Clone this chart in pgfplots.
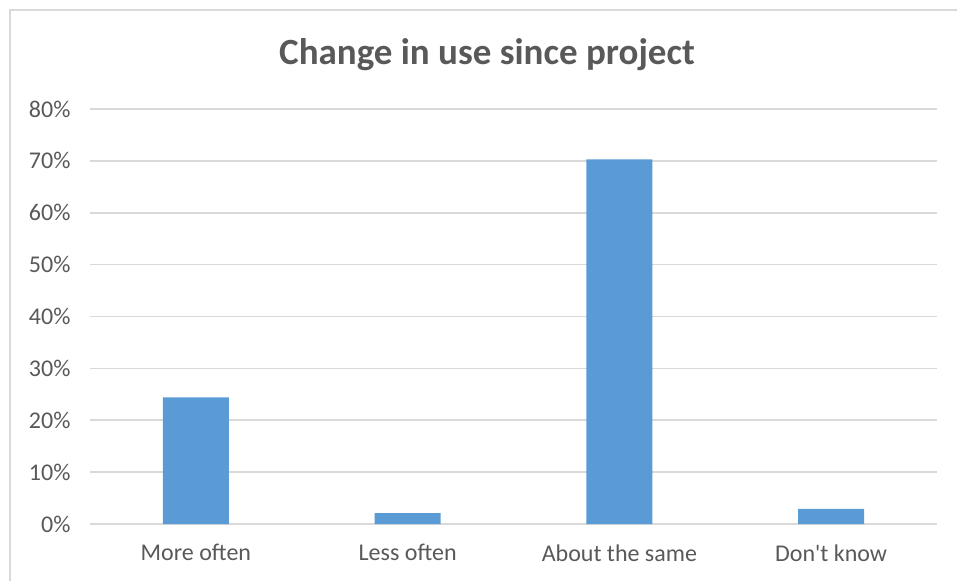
\documentclass[border=0pt]{standalone}
\usepackage{pgfplots}
\pgfplotsset{compat=1.18}
\usepackage{fontspec}
\setmainfont{Carlito}[Ligatures=TeXOff]
\definecolor{barblue}{HTML}{5B9BD5}
\definecolor{gridgray}{HTML}{D9D9D9}
\definecolor{txtgray}{HTML}{595959}
\begin{document}
\begin{tikzpicture}[x=1pt,y=1pt]
\begin{axis}[
  at={(90pt,57pt)}, anchor=south west,
  scale only axis, width=847pt, height=415pt,
  xmin=-0.5, xmax=3.5, ymin=0, ymax=80,
  axis line style={draw=none},
  major tick length=0pt,
  xtick=data,
  xticklabels={More often,Less often,About the same,Don't know},
  ytick={0,10,...,80},
  yticklabel={\pgfmathprintnumber{\tick}\%},
  /pgf/number format/assume math mode=true,
  ymajorgrids, grid style={gridgray, line width=1.6pt},
  tick label style={font=\fontsize{24}{28}\selectfont, text=txtgray},
  xticklabel style={yshift=-17pt},
  yticklabel style={xshift=-16pt},
  enlargelimits=false,
  clip=false,
]
\addplot[ybar, bar width=66pt, fill=barblue, draw=none] coordinates {
 (0,24.4) (1,2.1) (2,70.3) (3,2.9)};
\end{axis}
\node[font=\fontsize{37}{42}\selectfont\bfseries, text=txtgray] at (487pt,526pt) {Change in use since project};
\draw[gridgray, line width=1.2pt] (10pt,0pt) -- (10pt,571pt) -- (957pt,571pt);
\pgfresetboundingbox
\path (0,0) rectangle (957pt,581pt);
\end{tikzpicture}
\end{document}
